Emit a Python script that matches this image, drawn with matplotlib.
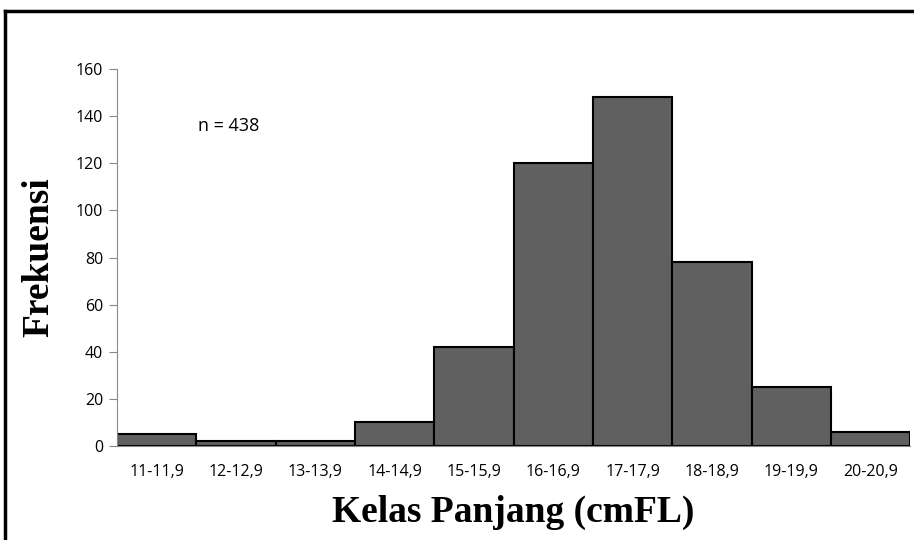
import matplotlib
matplotlib.use("Agg")
from matplotlib import pyplot as plt
from matplotlib.lines import Line2D

# kelas panjang (cm FL) dan frekuensi
kelas = ["11-11,9", "12-12,9", "13-13,9", "14-14,9", "15-15,9",
         "16-16,9", "17-17,9", "18-18,9", "19-19,9", "20-20,9"]
frekuensi = [5, 2, 2, 10, 42, 120, 148, 78, 25, 6]
yticks = [0, 20, 40, 60, 80, 100, 120, 140, 160]

fig = plt.figure(figsize=(9.14, 5.40), dpi=100)
ax = fig.add_axes([0.128, 0.174, 0.868, 0.698])

x = range(len(kelas))
ax.bar(x, frekuensi, width=1.0, color="#606060", edgecolor="black", linewidth=1.5)

ax.set_xlim(-0.5, len(kelas) - 0.5)
ax.set_ylim(0, 160)
ax.set_yticks(yticks)
ax.set_xticks(list(x))
ax.set_xticklabels(kelas, family="Open Sans", fontsize=11.5)
ax.tick_params(axis="x", length=0, pad=13)
ax.tick_params(axis="y", length=6, color="#888888", labelsize=11.5, pad=4)
for lab in ax.get_yticklabels():
    lab.set_family("Open Sans")

for s in ["top", "right"]:
    ax.spines[s].set_visible(False)
ax.spines["left"].set_color("#888888")
ax.spines["bottom"].set_color("#888888")

ax.set_xlabel("Kelas Panjang (cmFL)", family="Liberation Serif", fontweight="bold",
              fontsize=27, labelpad=11)
ax.set_ylabel("Frekuensi", family="Liberation Serif", fontweight="bold",
              fontsize=27, labelpad=14)

ax.text(0.52, 136, "n = 438", family="Open Sans", fontsize=13, va="center")

# bingkai luar
fig.add_artist(Line2D([0.005, 1.0], [0.98, 0.98], color="black", linewidth=2.5,
                      transform=fig.transFigure))
fig.add_artist(Line2D([0.006, 0.006], [0.0, 0.98], color="black", linewidth=2.5,
                      transform=fig.transFigure))

plt.savefig("out.png", dpi=100)
